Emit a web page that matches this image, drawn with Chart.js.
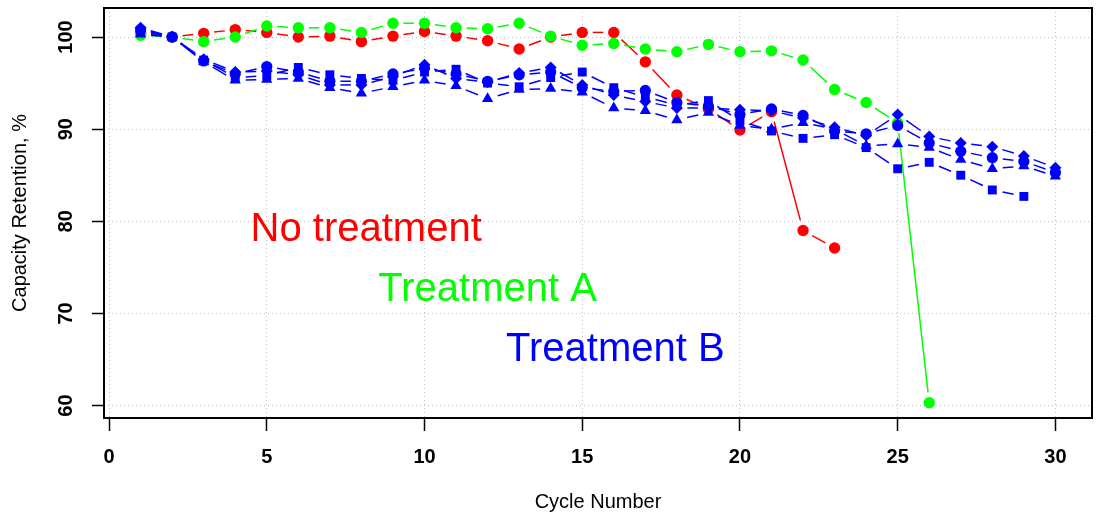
<!DOCTYPE html>
<html>
<head>
<meta charset="utf-8">
<title>Capacity retention</title>
<script src="https://cdn.jsdelivr.net/npm/chart.js@4.4.0/dist/chart.umd.min.js"></script>
<style>
  html, body { margin: 0; padding: 0; background: #fff; }
</style>
</head>
<body>
<canvas id="retentionChart" width="1102" height="516"></canvas>
<script>
// -------------------------
// DATA
// -------------------------

const cycles = [1, 2, 3, 4, 5, 6, 7, 8, 9, 10, 11, 12, 13, 14, 15,
                16, 17, 18, 19, 20, 21, 22, 23, 24, 25, 26, 27, 28, 29, 30];

const noTreatment = [100.4, 100.0, 100.4, 100.8, 100.5, 100.0, 100.1, 99.5, 100.1, 100.6,
                     100.1, 99.6, 98.7, 100.0, 100.5, 100.5, 97.3, 93.7, 92.2, 89.9,
                     91.9, 79.0, 77.1];

const treatmentA = [100.2, 100.0, 99.5, 100.0, 101.2, 101.0, 101.0, 100.5, 101.5, 101.5,
                    101.0, 100.9, 101.5, 100.1, 99.1, 99.3, 98.7, 98.4, 99.2, 98.4,
                    98.5, 97.5, 94.3, 92.9, 90.7, 60.3];

// treatment B cells, one array per cell
const treatmentB1 = [100.8, 100.0, 97.4, 96.0, 96.8, 96.2, 95.2, 95.2, 96.0, 96.6,
                     96.0, 95.2, 95.9, 96.2, 94.5, 94.1, 94.2, 92.9, 92.5, 91.6,
                     92.2, 91.5, 89.8, 89.5, 90.4, 88.5, 87.6, 86.9, 86.5, 85.3];
const treatmentB2 = [101.0, 100.0, 97.6, 96.2, 96.3, 95.9, 94.8, 94.8, 95.7, 97.0,
                     95.5, 95.1, 96.1, 96.7, 94.8, 93.7, 93.0, 92.3, 92.3, 92.1,
                     92.0, 91.2, 90.2, 89.3, 91.6, 89.2, 88.5, 88.1, 87.1, 85.8];
const treatmentB3 = [100.3, 100.0, 97.3, 95.3, 95.4, 95.5, 94.5, 93.9, 94.6, 95.3,
                     94.7, 93.3, 94.3, 94.4, 94.0, 92.3, 92.0, 91.0, 91.8, 90.4,
                     90.0, 90.7, 90.0, 88.2, 88.4, 88.0, 86.7, 85.7, 86.0, 84.9];
const treatmentB4 = [100.6, 100.0, 97.5, 95.6, 95.8, 96.7, 95.9, 95.5, 95.3, 96.2,
                     96.5, 95.0, 94.6, 95.6, 96.2, 94.5, 93.5, 92.6, 93.1, 90.9,
                     89.8, 89.0, 89.4, 88.0, 85.7, 86.4, 85.0, 83.4, 82.7];

const xTicks = [0, 5, 10, 15, 20, 25, 30];
const yTicks = [60, 70, 80, 90, 100];

const groupNames = ['No treatment', 'Treatment A', 'Treatment B'];

// -------------------------
// HELPERS
// -------------------------

const RED = '#ff0000';
const GREEN = '#00ff00';
const BLUE = '#0000ff';
const FONT = '"Liberation Sans", Arial, Helvetica, sans-serif';

function toPoints(values) {
    return values.map((v, i) => ({ x: cycles[i], y: v }));
}

// type = "b" look: every segment stops short of both points
const GAP = 10.5;
function gappedDash(ctx) {
    const len = Math.hypot(ctx.p1.x - ctx.p0.x, ctx.p1.y - ctx.p0.y);
    if (len <= 2 * GAP) return [0, len + 1];
    return [0, GAP, len - 2 * GAP, GAP];
}

function series(label, values, color, shape, radius) {
    return {
        label: label,
        data: toPoints(values),
        borderColor: color,
        backgroundColor: color,
        borderWidth: 1.5,
        pointStyle: shape,
        pointRadius: radius,
        pointBorderWidth: 0,
        pointBackgroundColor: color,
        fill: false,
        tension: 0,
        segment: { borderDash: gappedDash }
    };
}

// -------------------------
// BOX, ROTATED Y LABELS, GROUP NAMES
// -------------------------

const basePlotDecor = {
    id: 'basePlotDecor',
    afterDraw(chart) {
        const { ctx, chartArea: a, scales: { x, y } } = chart;
        ctx.save();

        ctx.strokeStyle = '#000';
        ctx.lineWidth = 2;
        ctx.strokeRect(a.left, a.top, a.right - a.left, a.bottom - a.top);

        ctx.fillStyle = '#000';
        ctx.font = 'bold 20px ' + FONT;
        ctx.textAlign = 'center';
        ctx.textBaseline = 'middle';
        yTicks.forEach(v => {
            ctx.save();
            ctx.translate(a.left - 38, y.getPixelForValue(v));
            ctx.rotate(-Math.PI / 2);
            ctx.fillText(String(v), 0, 0);
            ctx.restore();
        });

        ctx.font = '40px ' + FONT;
        const spots = [[8.15, 79.1, RED], [12.0, 72.6, GREEN], [16.05, 66.0, BLUE]];
        spots.forEach((s, i) => {
            ctx.fillStyle = s[2];
            ctx.fillText(groupNames[i], x.getPixelForValue(s[0]), y.getPixelForValue(s[1]));
        });

        ctx.restore();
    }
};

// -------------------------
// CHART
// -------------------------

new Chart(document.getElementById('retentionChart'), {
    type: 'line',
    data: {
        datasets: [
            series('Treatment B', treatmentB2, BLUE, 'rectRot', 6),
            series('Treatment B', treatmentB1, BLUE, 'circle', 5.6),
            series('Treatment B', treatmentB3, BLUE, 'triangle', 6.5),
            series('Treatment B', treatmentB4, BLUE, 'rect', 6.3),
            series('Treatment A', treatmentA, GREEN, 'circle', 5.7),
            series('No treatment', noTreatment, RED, 'circle', 5.7)
        ]
    },
    options: {
        responsive: false,
        animation: false,
        events: [],
        layout: { padding: { top: 8, right: 10, left: 0, bottom: 0 } },
        plugins: {
            legend: { display: false },
            tooltip: { enabled: false }
        },
        scales: {
            x: {
                type: 'linear',
                min: -0.16,
                max: 31.16,
                afterBuildTicks: scale => { scale.ticks = xTicks.map(v => ({ value: v })); },
                afterFit: scale => { scale.height = 98; },
                border: { display: false, dash: [1, 3] },
                grid: {
                    color: '#c0c0c0',
                    lineWidth: 1,
                    drawTicks: true,
                    tickLength: 13,
                    tickColor: '#000',
                    tickWidth: 1.5
                },
                ticks: {
                    color: '#000',
                    font: { family: FONT, size: 20, weight: 'bold' },
                    padding: 14,
                    maxRotation: 0,
                    autoSkip: false
                },
                title: {
                    display: true,
                    text: 'Cycle Number',
                    color: '#000',
                    font: { family: FONT, size: 20 },
                    padding: { top: 0, bottom: 2 }
                }
            },
            y: {
                type: 'linear',
                min: 58.65,
                max: 103.15,
                afterBuildTicks: scale => { scale.ticks = yTicks.map(v => ({ value: v })); },
                afterFit: scale => { scale.width = 104; },
                border: { display: false, dash: [1, 3] },
                grid: {
                    color: '#c0c0c0',
                    lineWidth: 1,
                    drawTicks: true,
                    tickLength: 12,
                    tickColor: '#000',
                    tickWidth: 1.5
                },
                ticks: { display: false },
                title: {
                    display: true,
                    text: 'Capacity Retention, %',
                    color: '#000',
                    font: { family: FONT, size: 20 },
                    padding: { top: 8, bottom: 0 }
                }
            }
        }
    },
    plugins: [basePlotDecor]
});
</script>
</body>
</html>
